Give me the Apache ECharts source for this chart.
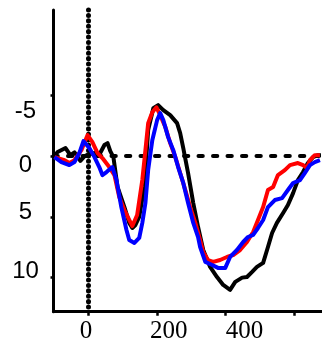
<!DOCTYPE html>
<html>
<head>
<meta charset="utf-8">
<script src="https://cdn.jsdelivr.net/npm/echarts@6/dist/echarts.min.js"></script>
<style>
html,body{margin:0;padding:0;background:#fff;}
#chart{width:322px;height:349px;}
</style>
</head>
<body>
<div id="chart"></div>
<script>
// time (ms) and amplitude (µV, negative plotted up)
const blackT = [-97,-88,-65,-51,-39,-22,-11,0,19,33,48,57,65,74,86,106,120,129,138,149,164,175,190,204,219,239,259,268,277,291,306,320,335,355,375,393,413,428,448,462,477,491,509,523,535,549,567,581,596,610,625,639,654,668,677];
const blackV = [0.0,-0.32,-0.65,-0.07,-0.3,0.4,0.05,-0.12,-0.24,-0.1,-0.9,-1.06,-0.4,0.09,2.55,4.2,5.5,5.92,5.67,5.0,2.55,-2.13,-3.92,-4.18,-3.77,-3.36,-2.7,-1.88,-0.65,1.4,3.87,5.84,7.73,9.12,9.95,10.6,11.0,10.35,10.0,9.95,9.53,9.12,8.79,7.48,6.33,5.5,4.69,4.03,3.05,1.98,1.32,0.58,0.09,-0.07,-0.07];

const redT = [-97,-68,-54,-39,-19,-1,13,28,42,62,77,91,106,120,129,143,158,167,175,187,199,210,225,239,254,268,283,297,312,326,335,349,364,384,404,422,442,462,480,494,509,523,538,552,572,587,610,625,636,645,659,674];
const redV = [0.09,0.34,0.58,0.34,-0.48,-1.72,-1.14,-0.24,0.17,0.91,1.57,3.37,4.44,5.26,5.76,4.85,1.97,-0.48,-2.7,-3.6,-4.0,-3.36,-2.37,-1.06,0.09,1.4,2.8,4.2,5.5,6.9,7.9,8.55,8.71,8.55,8.3,8.14,7.73,7.07,6.25,5.26,4.2,2.8,2.55,1.57,1.16,0.75,0.58,0.75,0.99,0.34,-0.07,-0.07];

const blueT = [-97,-77,-54,-39,-25,-13,4,19,33,42,54,71,83,97,112,120,135,149,158,167,175,187,201,210,219,233,248,262,277,291,306,320,326,341,361,378,399,413,433,451,465,480,494,509,523,543,564,581,596,616,630,645,659,674];
const blueV = [0.09,0.5,0.75,0.5,-0.24,-1.22,-0.65,0.09,0.91,1.57,1.32,0.91,1.98,4.2,6.08,6.9,7.15,6.74,5.5,3.87,1.16,-1.3,-2.95,-3.52,-2.95,-1.55,-0.48,0.91,2.22,3.87,5.5,6.66,7.48,8.71,8.96,9.2,9.2,8.3,7.73,7.07,6.66,6.49,5.92,5.26,4.2,3.62,3.46,2.8,2.22,1.98,1.4,0.75,0.5,0.34];

const xTicks = [0, 200, 400, 600];
const xLabels = [0, 200, 400];
const yTicks = [-5, 0, 5, 10];
const yLabels = [-5, 0, 5, 10];

const pair = (t, v) => t.map((x, i) => [x, v[i]]);

// per-label nudges (px) to match reference placement
const xShift = {0: -2, 200: 12, 400: 19};
const yShift = {'-5': 16, '0': 9, '5': -4, '10': -6};

const xRich = {}, yRich = {};
xLabels.forEach((v, i) => {
  const d = xShift[v];
  xRich['x' + i] = {fontFamily: 'Liberation Serif', fontSize: 25, color: '#000', lineHeight: 25,
    padding: d >= 0 ? [0, 0, 0, 2 * d] : [0, -2 * d, 0, 0]};
});
yLabels.forEach((v, i) => {
  const d = yShift[String(v)];
  yRich['y' + i] = {fontFamily: 'Liberation Sans', fontSize: 24, color: '#000', lineHeight: 24,
    padding: d >= 0 ? [2 * d, 0, 0, 0] : [0, 0, -2 * d, 0]};
});

const chart = echarts.init(document.getElementById('chart'), null, {renderer: 'canvas'});
chart.setOption({
  animation: false,
  backgroundColor: '#fff',
  grid: {left: 53.5, right: 0, top: 10, bottom: 37.3, containLabel: false},
  xAxis: {
    type: 'value', min: -100, max: 680,
    splitLine: {show: false},
    axisLine: {onZero: false, lineStyle: {color: '#000', width: 3}},
    axisTick: {customValues: xTicks, length: 4, lineStyle: {color: '#000', width: 2.5}},
    axisLabel: {
      customValues: xLabels, margin: 7, align: 'center', verticalAlign: 'top',
      formatter: v => '{x' + xLabels.indexOf(v) + '|' + v + '}',
      rich: xRich
    }
  },
  yAxis: {
    type: 'value', min: -12, max: 12.8, inverse: true,
    splitLine: {show: false},
    axisLine: {onZero: false, lineStyle: {color: '#000', width: 3}},
    axisTick: {customValues: yTicks, length: 3, lineStyle: {color: '#000', width: 2.5}},
    axisLabel: {
      customValues: yLabels, margin: 28, align: 'center', verticalAlign: 'middle',
      formatter: v => '{y' + yLabels.indexOf(v) + '|' + v + '}',
      rich: yRich
    }
  },
  series: [
    {
      type: 'line', data: pair(blackT, blackV), showSymbol: false, z: 3,
      lineStyle: {color: '#000', width: 4, join: 'round'},
      markLine: {
        silent: true, symbol: 'none', z: 1, label: {show: false},
        data: [
          {xAxis: 0, lineStyle: {color: '#000', width: 5, type: [0.1, 5.3], cap: 'round'}},
          {yAxis: 0, lineStyle: {color: '#000', width: 4, type: [4.3, 10.2], cap: 'round'}}
        ]
      }
    },
    {type: 'line', data: pair(redT, redV), showSymbol: false, z: 4,
      lineStyle: {color: '#ff0000', width: 4, join: 'round'}},
    {type: 'line', data: pair(blueT, blueV), showSymbol: false, z: 5,
      lineStyle: {color: '#0000ff', width: 4, join: 'round'}}
  ]
});
</script>
</body>
</html>
